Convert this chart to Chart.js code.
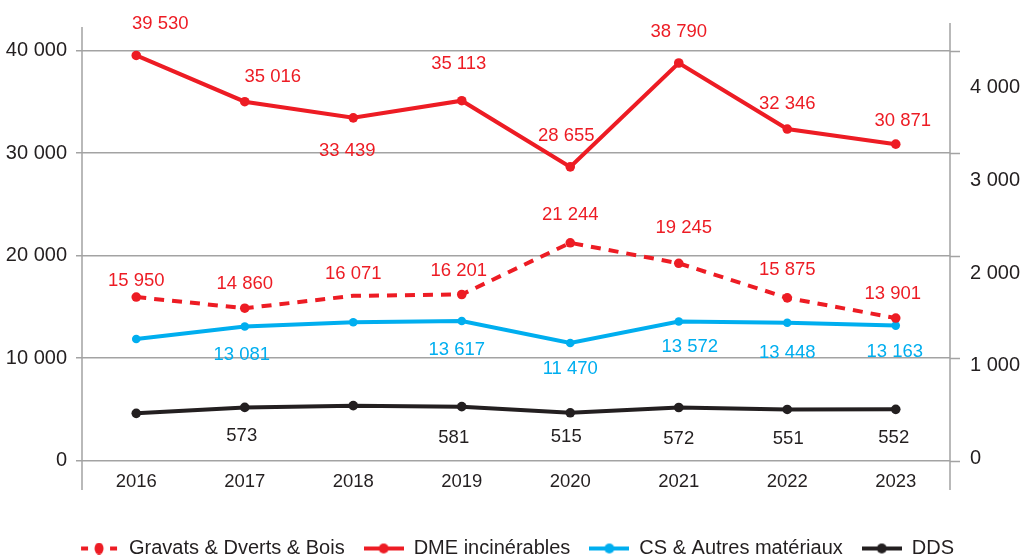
<!DOCTYPE html>
<html>
<head>
<meta charset="utf-8">
<script src="https://cdn.jsdelivr.net/npm/chart.js@4/dist/chart.umd.min.js"></script>
<style>
  html, body { margin: 0; padding: 0; background: #fff; }
  #wrap { width: 1021px; height: 558px; }
</style>
</head>
<body>
<div id="wrap"><canvas id="chart" width="1021" height="558"></canvas></div>
<script>
// ─── DATA ────────────────────────────────────────────────────────────────────
const years = ['2016', '2017', '2018', '2019', '2020', '2021', '2022', '2023'];
const gravats = [15950, 14860, 16071, 16201, 21244, 19245, 15875, 13901];
const dme = [39530, 35016, 33439, 35113, 28655, 38790, 32346, 30871];
const csAutres = [11850, 13081, 13490, 13617, 11470, 13572, 13448, 13163];
const dds = [509, 573, 592, 581, 515, 572, 551, 552];
// which points carry a value label in the original
const csLabelled = [false, true, false, true, true, true, true, true];
const ddsLabelled = [false, true, false, true, true, true, true, true];
// axis ticks
const leftTicks = [0, 10000, 20000, 30000, 40000];
const rightTicks = [0, 1000, 2000, 3000, 4000];

const RED = '#ed1c24';
const CYAN = '#00aeef';
const DARK = '#231f20';
const GRID = '#a3a3a3';
const FONT = "'Liberation Sans', Arial, Helvetica, sans-serif";

const fmt = v => String(v).replace(/\B(?=(\d{3})+(?!\d))/g, ' ');

// label placement (dx, dy from the point), tuned by eye
const labelPos = {
  0: [[0,-16],[0,-24],[0,-22],[-3,-24],[0,-28],[5,-35],[0,-28],[-3,-24]],
  1: [[24,-32],[28,-25],[-6,33],[-3,-37],[-4,-31],[0,-31],[0,-25],[7,-23]],
  2: [[0,0],[-3,28],[0,0],[-5,29],[0,26],[11,25],[0,30],[-1,26]],
  3: [[0,0],[-3,29],[0,0],[-8,31],[-4,24],[0,31],[1,29],[-2,29]]
};

// ─── LEGEND ICONS ────────────────────────────────────────────────────────────
function legendIcon(color, dashed) {
  const c = document.createElement('canvas');
  c.width = 40; c.height = 12;
  const g = c.getContext('2d');
  g.strokeStyle = color; g.fillStyle = color; g.lineWidth = 4;
  if (dashed) {
    g.beginPath(); g.moveTo(2, 6); g.lineTo(9, 6); g.moveTo(31, 6); g.lineTo(38, 6); g.stroke();
    g.beginPath(); g.ellipse(20, 6, 4.5, 6, 0, 0, Math.PI * 2); g.fill();
  } else {
    g.beginPath(); g.moveTo(0, 6); g.lineTo(40, 6); g.stroke();
    g.beginPath(); g.arc(20, 6, 5, 0, Math.PI * 2); g.fill();
  }
  return c;
}
const icons = [legendIcon(RED, true), legendIcon(RED, false), legendIcon(CYAN, false), legendIcon(DARK, false)];

// ─── EXTRAS PLUGIN ───────────────────────────────────────────────────────────
const extras = {
  id: 'extras',
  afterLayout(chart) {
    // legend sits lower and slightly right in the original
    const lg = chart.legend;
    lg.top += 19; lg.bottom += 19;
    lg.left += 6; lg.right += 6;
  },
  beforeDatasetsDraw(chart) {
    const { ctx, chartArea: a, scales } = chart;
    ctx.save();
    ctx.strokeStyle = GRID; ctx.lineWidth = 1.5;
    ctx.beginPath();
    ctx.moveTo(a.left, a.top + 2); ctx.lineTo(a.left, 490);
    ctx.moveTo(a.right, a.top - 2); ctx.lineTo(a.right, 490);
    scales.y.ticks.forEach(t => {
      const py = Math.round(scales.y.getPixelForValue(t.value)) + 0.5;
      ctx.moveTo(a.right, py); ctx.lineTo(a.right + 10, py);
    });
    ctx.stroke();
    ctx.restore();
  },
  afterDatasetsDraw(chart) {
    const { ctx } = chart;
    ctx.save();
    ctx.font = '18.5px ' + FONT;
    ctx.textAlign = 'center';
    ctx.textBaseline = 'middle';
    chart.data.datasets.forEach((ds, di) => {
      const meta = chart.getDatasetMeta(di);
      ctx.fillStyle = ds.labelColor;
      meta.data.forEach((pt, i) => {
        if (ds.labelled && !ds.labelled[i]) return;
        const [dx, dy] = labelPos[di][i];
        ctx.fillText(fmt(ds.data[i]), pt.x + dx, pt.y + dy);
      });
    });
    ctx.restore();
  }
};

// ─── CHART ───────────────────────────────────────────────────────────────────
const line = (label, data, color, axis, extra) => Object.assign({
  label, data, yAxisID: axis,
  borderColor: color, backgroundColor: color, labelColor: color,
  borderWidth: 4, pointRadius: 4.8, pointHoverRadius: 4.8,
  pointBorderWidth: 0, tension: 0, fill: false
}, extra);

new Chart(document.getElementById('chart'), {
  type: 'line',
  data: {
    labels: years,
    datasets: [
      line('Gravats & Dverts & Bois', gravats, RED, 'y', { borderDash: [10, 8], pointRadius: [4.8, 4.8, 0, 4.8, 4.8, 4.8, 4.8, 4.8] }),
      line('DME incinérables', dme, RED, 'y'),
      line('CS & Autres matériaux', csAutres, CYAN, 'y', { pointRadius: 4.3, labelled: csLabelled }),
      line('DDS', dds, DARK, 'y1', { labelColor: DARK, labelled: ddsLabelled })
    ]
  },
  options: {
    responsive: false,
    animation: false,
    layout: { padding: { top: 25, left: 0, right: 0, bottom: 8.5 } },
    plugins: {
      tooltip: { enabled: false },
      legend: {
        position: 'bottom',
        labels: {
          usePointStyle: true,
          pointStyleWidth: 40,
          padding: 19,
          color: DARK,
          font: { family: FONT, size: 20 },
          generateLabels: chart => Chart.defaults.plugins.legend.labels.generateLabels(chart)
            .map(it => Object.assign(it, { pointStyle: icons[it.datasetIndex] }))
        }
      }
    },
    scales: {
      x: {
        offset: true,
        grid: { display: false, drawTicks: false },
        border: { display: false },
        ticks: { color: DARK, font: { family: FONT, size: 18.5 }, padding: 10 },
        afterFit: s => { s.height = 40; }
      },
      y: {
        position: 'left',
        min: 0, max: 42500,
        grid: { color: GRID, lineWidth: 1.5, tickLength: 6 },
        border: { display: false },
        afterBuildTicks: s => { s.ticks = leftTicks.map(value => ({ value })); },
        ticks: { padding: 9, color: DARK, font: { family: FONT, size: 20 }, callback: v => fmt(v) },
        afterFit: s => { s.width = 82; }
      },
      y1: {
        position: 'right',
        min: 0, max: 4700,
        // invisible tick marks only used to push the labels away from the axis
        grid: { display: false, drawTicks: true, tickLength: 14 },
        border: { display: false },
        afterBuildTicks: s => { s.ticks = rightTicks.map(value => ({ value })); },
        ticks: { padding: 6, labelOffset: -2, color: DARK, font: { family: FONT, size: 20 }, callback: v => fmt(v) },
        afterFit: s => { s.width = 71; }
      }
    }
  },
  plugins: [extras]
});
</script>
</body>
</html>
